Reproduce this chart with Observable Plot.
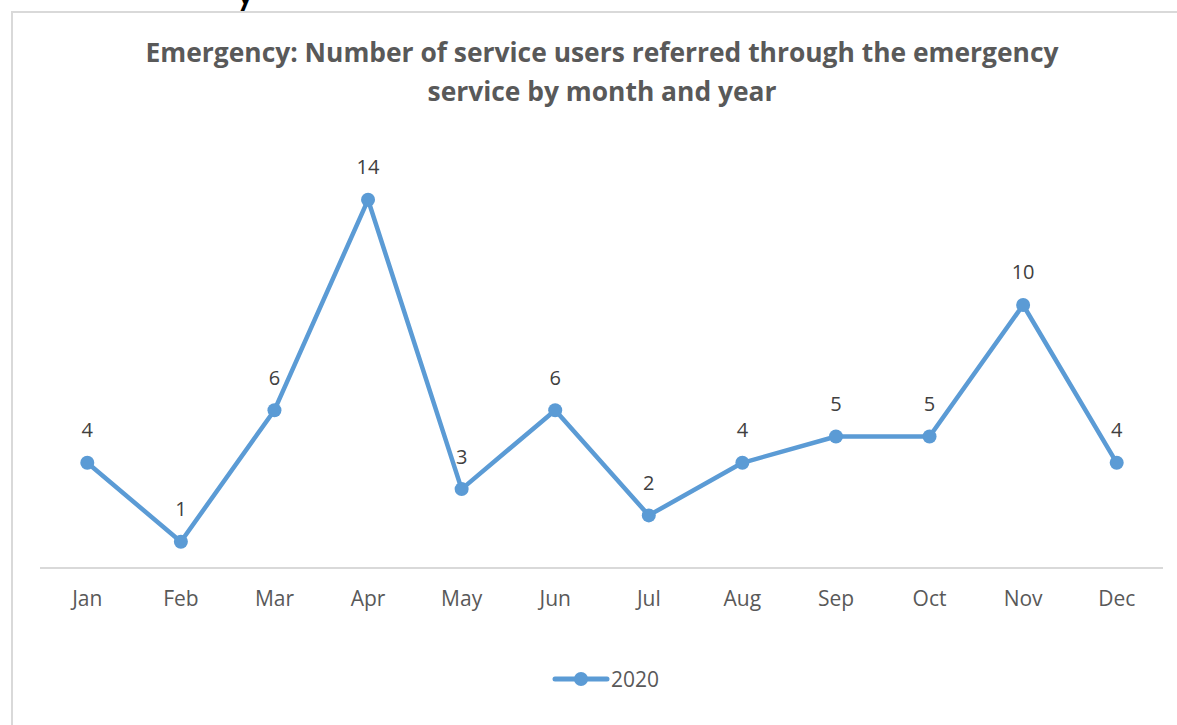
<!DOCTYPE html>
<html>
<head>
<meta charset="utf-8">
<script src="https://cdn.jsdelivr.net/npm/d3@7"></script>
<script src="https://cdn.jsdelivr.net/npm/@observablehq/plot@0.6"></script>
<style>
  html, body { margin: 0; padding: 0; background: #fff; }
  #wrap { position: relative; width: 1177px; height: 725px; overflow: hidden; font-family: "Open Sans", Lato, sans-serif; }
  #frame { position: absolute; left: 11px; top: 11px; width: 1200px; height: 800px; border: 2px solid #d9d9d9; box-sizing: border-box; }
  #frag { position: absolute; left: 234px; top: -38px; font-size: 44px; color: #000; font-family: Lato, sans-serif; }
  #title { position: absolute; left: 0; width: 1204px; top: 33px; text-align: center; font-weight: bold; font-size: 26.4px; line-height: 39px; color: #595959; }
  #chart { position: absolute; left: 0; top: 0; }
  #legend { position: absolute; top: 665px; left: 552px; display: flex; align-items: center; font-size: 21px; color: #595959; }
  #legend svg { margin-right: 1px; }
</style>
</head>
<body>
<div id="wrap">
  <div id="frag">y</div>
  <div id="frame"></div>
  <div id="title">Emergency: Number of service users referred through the emergency<br>service by month and year</div>
  <div id="chart"></div>
  <div id="legend"><svg width="58" height="20"><line x1="3" y1="10" x2="55" y2="10" stroke="#5B9BD5" stroke-width="5" stroke-linecap="round"/><circle cx="29" cy="10" r="7" fill="#5B9BD5"/></svg><span>2020</span></div>
</div>
<script>
const months = ["Jan","Feb","Mar","Apr","May","Jun","Jul","Aug","Sep","Oct","Nov","Dec"];
const values2020 = [4, 1, 6, 14, 3, 6, 2, 4, 5, 5, 10, 4];
const seriesName = "2020";

const data = months.map((m, i) => ({month: m, value: values2020[i], series: seriesName}));
const color = "#5B9BD5";

const chart = Plot.plot({
  width: 1177,
  height: 725,
  marginTop: 146.7,
  marginBottom: 157.5,
  marginLeft: 40,
  marginRight: 14,
  style: { background: "transparent", fontFamily: "'Open Sans', Lato, sans-serif" },
  x: { type: "point", domain: months, padding: 0.5, round: false },
  y: { domain: [0, 16], axis: null },
  marks: [
    Plot.ruleY([0], { stroke: "#d9d9d9", strokeWidth: 2 }),
    Plot.axisX({ tickSize: 0, tickPadding: 23, fontSize: 21, color: "#595959", label: null }),
    Plot.line(data, { x: "month", y: "value", stroke: color, strokeWidth: 4.5, strokeLinejoin: "round" }),
    Plot.dot(data, { x: "month", y: "value", r: 7, fill: color }),
    Plot.text(data, { x: "month", y: "value", text: d => String(d.value), dy: -32, fontSize: 20, fill: "#404040" })
  ]
});
document.getElementById("chart").appendChild(chart);
</script>
</body>
</html>
